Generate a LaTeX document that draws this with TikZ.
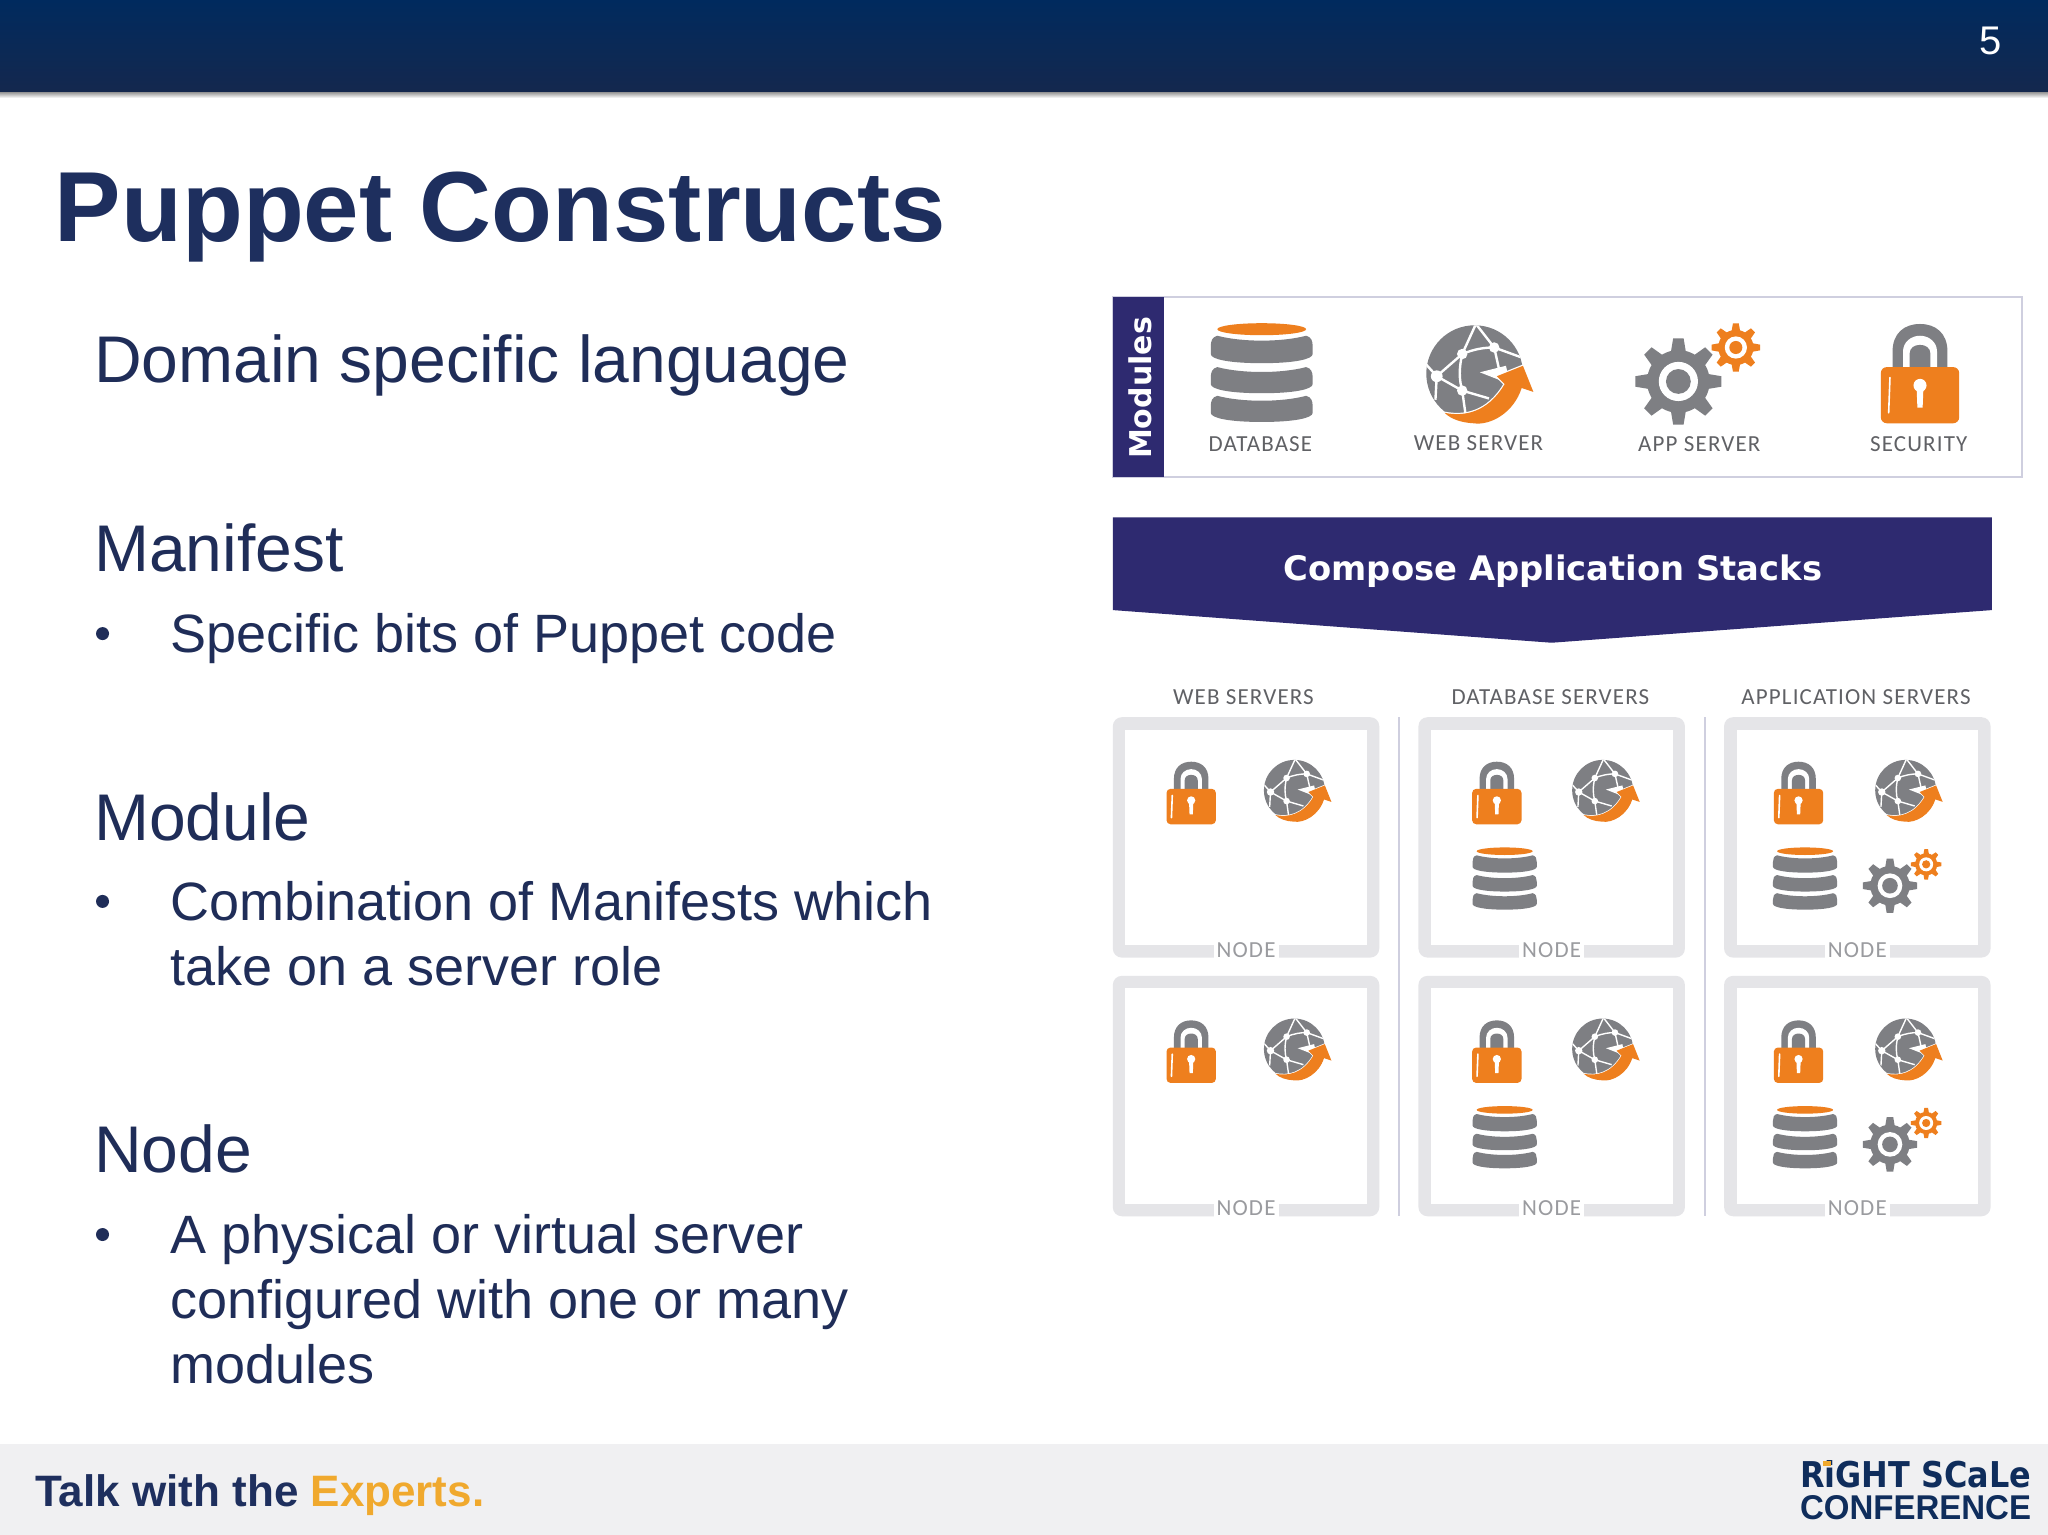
\documentclass[tikz,border=0pt]{standalone}
\usepackage{fontspec}
\usepackage{graphicx}
\setmainfont{Liberation Sans}
\newfontfamily\labfont[LetterSpace=5]{Carlito}
\newfontfamily\widefont{DejaVu Sans}
\usetikzlibrary{calc}
\definecolor{navytext}{HTML}{1E2F5E}
\definecolor{bodytext}{HTML}{1F2D58}
\definecolor{bandpurple}{HTML}{2E2A70}
\definecolor{iconorange}{HTML}{EE7F1E}
\definecolor{icongray}{HTML}{7E7F83}
\definecolor{framegray}{HTML}{E5E5E8}
\definecolor{rulelav}{HTML}{CFCFDF}
\definecolor{labelgray}{HTML}{606165}
\definecolor{nodegray}{HTML}{9A9B9F}
\definecolor{footgray}{HTML}{F0F0F2}
\definecolor{expert}{HTML}{F0A92E}
\definecolor{logoblue}{HTML}{0F2D5C}
\newcommand{\fsz}[1]{\fontsize{#1pt}{#1pt}\selectfont}
\newcommand{\dbtier}[2]{%
  \fill[icongray] (-34,#1) .. controls (-15,#1+5) and (15,#1+5) .. (34,#1)
    .. controls (38,#1+1) and (39,#1+4) .. (39,#1+8) -- (39,#2-7)
    .. controls (39,#2-3) and (25,#2) .. (0,#2)
    .. controls (-25,#2) and (-39,#2-3) .. (-39,#2-7) -- (-39,#1+8)
    .. controls (-39,#1+4) and (-38,#1+1) .. (-34,#1) -- cycle;
}
\tikzset{
  x=1.30612pt,y=-1.30638pt,
  txt/.style={anchor=base west,inner sep=0pt,outer sep=0pt,text=bodytext},
  headtxt/.style={txt,font=\fsz{66}},
  subtxt/.style={txt,font=\fsz{54}},
  bullet/.style={circle,fill=bodytext,inner sep=0pt,minimum size=13pt},
  iconlabel/.style={inner sep=0pt,text=labelgray,font=\labfont\fsz{23}},
  nodelabel/.style={fill=white,inner sep=3pt,text=nodegray,font=\labfont\fsz{23}},
  iconline/.style={line width=2.4pt},
  cornerR/.style={rounded corners=6pt},
  dbicon/.pic={
    \dbtier{-29}{-8}
    \dbtier{-5}{15}
    \dbtier{17}{37}
    \fill[iconorange] (0,-34) ellipse (34 and 4.6);
  },
  globeicon/.pic={
    \fill[icongray] (0,0) circle (37);
    \begin{scope}
      \clip (0,0) circle (37);
      \draw[white,iconline] (-29,2) -- (-9.5,-15) .. controls (0,-19) and (8,-20) .. (15,-20) -- (37,-12);
      \draw[white,iconline] (-29,2) -- (-9.5,13) -- (11,19);
      \draw[white,iconline] (-9.5,-15) .. controls (-12,-4) and (-12,4) .. (-9.5,13) -- (-6,38);
      \draw[white,iconline] (1,-38) -- (-9.5,-15);
      \draw[white,iconline] (1,-38) -- (15,-20) -- (19,-2);
      \draw[white,iconline] (-38,-8) -- (-29,2) -- (-30,20);
    \end{scope}
    \fill[white] (-29,2) circle (4.5) (-9.5,-15) circle (4) (15,-20) circle (4) (-9.5,13) circle (4);
    \fill[white] (4,-1) -- (24,-6) -- (27,8) -- cycle;
    \draw[white,iconline,line join=round] (-23,30) .. controls (-8,33) and (10,30) .. (23,8) -- (17,2) -- (37,-6) -- (45,14) -- (36,11);
    \fill[iconorange] (-23,30) .. controls (-8,33) and (10,30) .. (23,8) -- (17,2) -- (37,-6) -- (45,14) -- (36,11) .. controls (30,30) and (12,40) .. (-1,38) .. controls (-10,37.5) and (-18,35) .. (-23,30) -- cycle;
  },
  gearicon/.pic={
    \foreach \a in {0,45,...,315}{
      \fill[icongray,rotate=\a] (-6,-21) -- (-4,-33) -- (4,-33) -- (6,-21) -- cycle;
    }
    \fill[icongray] (0,0) circle (24);
    \fill[white] (0,0) circle (15);
    \fill[icongray] (0,0) circle (9.5);
    \begin{scope}[shift={(44,-26)}]
      \foreach \a in {0,45,...,315}{
        \fill[iconorange,rotate=\a] (-3.4,-12) -- (-2.2,-18.5) -- (2.2,-18.5) -- (3.4,-12) -- cycle;
      }
      \fill[iconorange] (0,0) circle (13.5);
      \fill[white] (0,0) circle (8.5);
      \fill[iconorange] (0,0) circle (5);
    \end{scope}
  },
  lockicon/.pic={
    \fill[icongray] (-21,0) -- (-21,-17) .. controls (-21,-31) and (-12,-38) .. (0,-38) .. controls (12,-38) and (21,-31) .. (21,-17) -- (21,0) -- cycle;
    \fill[white] (-13,0) -- (-13,-17) .. controls (-13,-24) and (-7,-29) .. (0,-29) .. controls (7,-29) and (13,-24) .. (13,-17) -- (13,0) -- cycle;
    \fill[icongray] (-8,0) -- (-8,-15) .. controls (-8,-20) and (-4,-22) .. (0,-22) .. controls (4,-22) and (8,-20) .. (8,-15) -- (8,0) -- cycle;
    \fill[iconorange,cornerR] (-30,-5) rectangle (30,38);
    \draw[white,line width=1.6pt,line cap=round] (-23,3) -- (-24,30);
    \fill[white] (0,9) circle (5);
    \fill[white] (-2.6,11) -- (2.6,11) -- (2,26) -- (-2,26) -- cycle;
  },
  smallicon/.style={scale=.63,iconline/.style={line width=1.4pt},cornerR/.style={rounded corners=4pt}},
}
\newcommand{\nodeframe}[5]{% name, x1, y1, x2, y2
  \fill[framegray,rounded corners=9pt] (#2,#3) rectangle (#4,#5);
  \fill[white] ($(#2,#3)+(9.5,9.5)$) rectangle ($(#4,#5)+(-9.5,-9.5)$);
  \node[nodelabel] (#1) at ($({(#2+#4)/2},#5)+(0,-6)$) {NODE};
}
\begin{document}
\begin{tikzpicture}
\useasboundingbox (0,0) rectangle (1568,1175);
\fill[white] (0,0) rectangle (1568,1175);
% header
\shade[top color=black!55,bottom color=white] (0,69) rectangle (1568,75);
\shade[top color={rgb,255:red,0;green,42;blue,94},bottom color={rgb,255:red,20;green,40;blue,78}] (0,0) rectangle (1568,70);
\node[text=white,inner sep=0pt,anchor=base,font=\fsz{40}] (pagenum) at (1524,42) {5};
% title
\node[txt,text=navytext,font=\bfseries\fsz{99.6}] (title) at (42,185) {Puppet Constructs};
% body
\node[headtxt] (h1) at (72,292.5) {Domain specific language};
\node[headtxt] (h2) at (72,437.5) {Manifest};
\node[bullet] (b2) at (78.5,485) {};
\node[subtxt] (s2) at (130.5,499.3) {Specific bits of Puppet code};
\node[headtxt] (h3) at (72,643) {Module};
\node[bullet] (b3) at (78.5,690) {};
\node[subtxt] (s3a) at (130.5,704.3) {Combination of Manifests which};
\node[subtxt] (s3b) at (130.5,754.3) {take on a server role};
\node[headtxt] (h4) at (72,897.5) {Node};
\node[bullet] (b4) at (78.5,945) {};
\node[subtxt] (s4a) at (130.5,959.3) {A physical or virtual server};
\node[subtxt] (s4b) at (130.5,1009.3) {configured with one or many};
\node[subtxt] (s4c) at (130.5,1059.3) {modules};
% modules panel
\draw[rulelav,line width=2pt] (852,227) rectangle (1548,365);
\fill[bandpurple] (852,227) rectangle (891,365);
\node[rotate=90,text=white,inner sep=0pt,font=\widefont\bfseries\fsz{30}] (modules) at (873,297) {Modules};
\pic at (966,286) {dbicon};
\pic at (1129,286) {globeicon};
\pic at (1285,292) {gearicon};
\pic at (1470,286) {lockicon};
\node[iconlabel] (ldb) at (965,340) {DATABASE};
\node[iconlabel] (lweb) at (1132,339) {WEB SERVER};
\node[iconlabel] (lapp) at (1301,340) {APP SERVER};
\node[iconlabel] (lsec) at (1469,340) {SECURITY};
% band
\fill[bandpurple] (852,396) -- (1525,396) -- (1525,467) -- (1188,492) -- (852,467) -- cycle;
\node[text=white,inner sep=0pt,font=\widefont\bfseries\fsz{33.8}] (compose) at (1189,437) {Compose Application Stacks};
% columns
\node[iconlabel] (cweb) at (952,534) {WEB SERVERS};
\node[iconlabel] (cdb) at (1187,534) {DATABASE SERVERS};
\node[iconlabel] (capp) at (1421,534) {APPLICATION SERVERS};
\draw[rulelav,line width=2pt] (1071,549) -- (1071,931);
\draw[rulelav,line width=2pt] (1305,549) -- (1305,931);
\nodeframe{n11}{852}{549}{1056}{733}
\nodeframe{n12}{1086}{549}{1290}{733}
\nodeframe{n13}{1320}{549}{1524}{733}
\nodeframe{n21}{852}{747}{1056}{931}
\nodeframe{n22}{1086}{747}{1290}{931}
\nodeframe{n23}{1320}{747}{1524}{931}
\foreach \dy in {0,198}{
  \pic[smallicon] at (912,607+\dy) {lockicon};
  \pic[smallicon] at (991,605+\dy) {globeicon};
  \pic[smallicon] at (1146,607+\dy) {lockicon};
  \pic[smallicon] at (1227,605+\dy) {globeicon};
  \pic[smallicon] at (1152,673+\dy) {dbicon};
  \pic[smallicon] at (1377,607+\dy) {lockicon};
  \pic[smallicon] at (1459,605+\dy) {globeicon};
  \pic[smallicon] at (1382,673+\dy) {dbicon};
  \pic[smallicon] at (1447,678+\dy) {gearicon};
}
% footer
\fill[footgray] (0,1105) rectangle (1568,1175);
\node[txt,font=\bfseries\fsz{44}] (talk) at (27,1153) {\textcolor{navytext}{Talk with the }\textcolor{expert}{Experts.}};
\node[anchor=base west,inner sep=0pt,text=logoblue,font=\widefont\bfseries] (logoa) at (1378,1139) {\resizebox{231pt}{27pt}{RiGHT SCaLe}};
\fill[expert] (1396,1118) -- (1402,1118) -- (1402,1122) -- (1396,1122) -- cycle;
\node[anchor=base west,inner sep=0pt,text=logoblue,font=\bfseries] (logob) at (1378,1163) {\resizebox{231pt}{24pt}{CONFERENCE}};
\end{tikzpicture}
\end{document}
